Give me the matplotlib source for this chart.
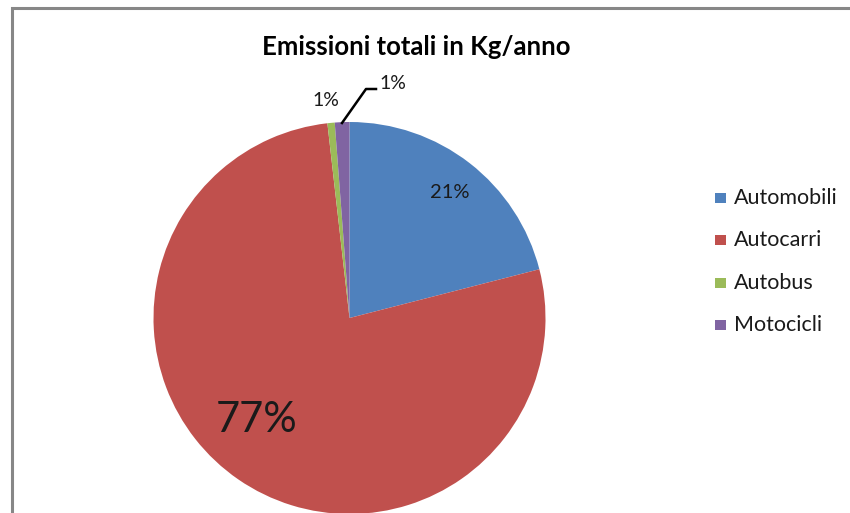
import matplotlib
matplotlib.use("Agg")
import matplotlib.pyplot as plt
from matplotlib.patches import Rectangle
from matplotlib.lines import Line2D

categories = ["Automobili", "Autocarri", "Autobus", "Motocicli"]
values = [21.0, 77.2, 0.6, 1.2]
colors = ["#4F81BD", "#C0504D", "#9BBB59", "#8064A2"]
title = "Emissioni totali in Kg/anno"

plt.rcParams['font.family'] = ['Lato', 'DejaVu Sans']

W, H = 850, 513
fig = plt.figure(figsize=(W / 100, H / 100), dpi=100)

# pie axes in pixel geometry
cx, cy, r = 349.5, 318.0, 196.0
ax = fig.add_axes([(cx - r) / W, (H - cy - r) / H, 2 * r / W, 2 * r / H])
ax.set_aspect('equal')
ax.axis('off')

wedges, _ = ax.pie(values, colors=colors, startangle=90, counterclock=False,
                   radius=1.0, center=(0, 0), frame=False,
                   wedgeprops=dict(linewidth=0))
ax.set_xlim(-1, 1)
ax.set_ylim(-1, 1)

total = sum(values)
labels = [f"{v / total * 100:.0f}%" for v in values]

def px(x, y):
    return ((x - cx) / r, (cy - y) / r)

ax.text(*px(450, 192), labels[0], ha='center', va='center', fontsize=14.5, color='#1a1a1a')
ax.text(*px(257, 420), labels[1], ha='center', va='center', fontsize=30, color='#1a1a1a')
ax.text(*px(326, 100), labels[2], ha='center', va='center', fontsize=14, color='#1a1a1a')
ax.text(*px(393, 83), labels[3], ha='center', va='center', fontsize=14, color='#1a1a1a')
pts = [px(342, 123), px(366, 89), px(376, 89)]
ax.add_line(Line2D([p[0] for p in pts], [p[1] for p in pts], color='black',
                   lw=1.8, clip_on=False))

# title
fig.text(416 / W, 1 - 47 / H, title, ha='center', va='center',
         fontsize=18.5, fontweight='bold', color='#000000')

# legend
rows_y = [198, 240, 283, 325]
for name, col, yy in zip(categories, colors, rows_y):
    fig.patches.append(Rectangle((715 / W, 1 - (yy + 5) / H), 11 / W, 10 / H,
                                 transform=fig.transFigure, facecolor=col,
                                 edgecolor='none'))
    fig.text(734 / W, 1 - yy / H, name, ha='left', va='center',
             fontsize=15.5, color='#1a1a1a')

# chart frame (partially visible)
fig.add_artist(Line2D([11.5 / W, 11.5 / W, 1.0], [0, 1 - 7.5 / H, 1 - 7.5 / H],
                      transform=fig.transFigure, color='#878787', lw=2.2,
                      solid_joinstyle='miter'))

fig.savefig("out.png", dpi=100)
